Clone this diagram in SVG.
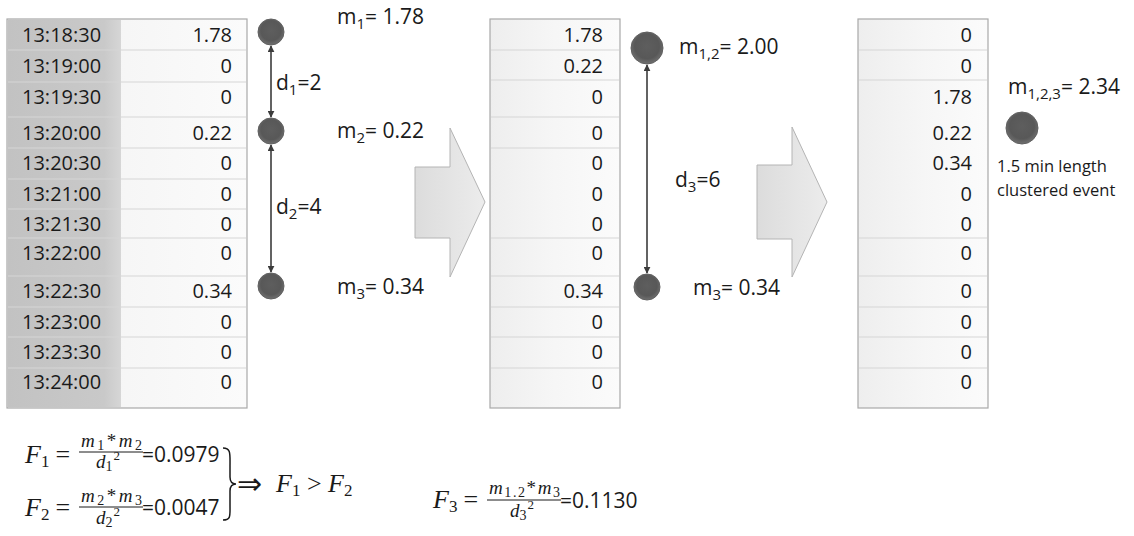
<svg xmlns="http://www.w3.org/2000/svg" width="1134" height="536" viewBox="0 0 1134 536">
<defs>
<linearGradient id="gTime" x1="0" y1="0" x2="1" y2="0">
<stop offset="0" stop-color="#c2c2c2"/><stop offset="0.85" stop-color="#c9c9c9"/><stop offset="1" stop-color="#d6d6d6"/>
</linearGradient>
<linearGradient id="gVal" x1="0" y1="0" x2="1" y2="0">
<stop offset="0" stop-color="#eeeeee"/><stop offset="0.5" stop-color="#f6f6f6"/><stop offset="1" stop-color="#fbfbfb"/>
</linearGradient>
<linearGradient id="gArrow" x1="0" y1="0" x2="1" y2="0">
<stop offset="0" stop-color="#dcdcdc"/><stop offset="1" stop-color="#ececec"/>
</linearGradient>
<radialGradient id="gDot" cx="0.5" cy="0.45" r="0.55">
<stop offset="0" stop-color="#5e5e5e"/><stop offset="0.7" stop-color="#585858"/><stop offset="1" stop-color="#707070"/>
</radialGradient>
<marker id="ah" viewBox="0 0 10 10" refX="9" refY="5" markerWidth="7" markerHeight="7" orient="auto-start-reverse" markerUnits="userSpaceOnUse">
<path d="M0,0 L10,5 L0,10 z" fill="#3c3c3c"/>
</marker>
<style>
.t{font-family:"Open Sans","Liberation Sans",sans-serif;font-size:20px;fill:#1a1a1a}
.v{font-family:"Open Sans","Liberation Sans",sans-serif;font-size:20px;fill:#1a1a1a;text-anchor:end}
.lb{font-family:"Open Sans","Liberation Sans",sans-serif;font-size:21px;fill:#1a1a1a}
.sub{font-size:15px}
.sm{font-family:"Open Sans","Liberation Sans",sans-serif;font-size:16.5px;fill:#1a1a1a}
.mi{font-family:"Liberation Serif",serif;font-style:italic;fill:#1a1a1a}
.up{font-style:normal}
.box{stroke:#a8a8a8;stroke-width:1.2;fill:url(#gVal)}
.sep{stroke:#d6d6d6;stroke-width:1.2}
.dot{fill:url(#gDot);stroke:#606060;stroke-width:1}
.con{stroke:#3c3c3c;stroke-width:1.6;fill:none;marker-start:url(#ah);marker-end:url(#ah)}
.fat{fill:url(#gArrow);stroke:#b4b4b4;stroke-width:1}
.fl{stroke:#1a1a1a;stroke-width:1}
</style>
</defs>
<rect width="1134" height="536" fill="#fff"/>

<g id="table1">
<rect class="box" x="7" y="19" width="240" height="389"/>
<rect x="8" y="20" width="113" height="387" fill="url(#gTime)"/>
<g class="sep">
<line x1="8" y1="50" x2="246" y2="50"/><line x1="8" y1="82" x2="246" y2="82"/><line x1="8" y1="117" x2="246" y2="117"/><line x1="8" y1="148" x2="246" y2="148"/><line x1="8" y1="179" x2="246" y2="179"/><line x1="8" y1="209" x2="246" y2="209"/><line x1="8" y1="238" x2="246" y2="238"/><line x1="8" y1="276" x2="246" y2="276"/><line x1="8" y1="307" x2="246" y2="307"/><line x1="8" y1="337" x2="246" y2="337"/><line x1="8" y1="368" x2="246" y2="368"/>
</g>
<g class="t">
<text x="22" y="42">13:18:30</text><text x="22" y="73">13:19:00</text><text x="22" y="104">13:19:30</text><text x="22" y="140">13:20:00</text><text x="22" y="170">13:20:30</text><text x="22" y="201">13:21:00</text><text x="22" y="231">13:21:30</text><text x="22" y="260">13:22:00</text><text x="22" y="298">13:22:30</text><text x="22" y="329">13:23:00</text><text x="22" y="359">13:23:30</text><text x="22" y="389">13:24:00</text>
</g>
<g class="v">
<text x="232" y="42">1.78</text><text x="232" y="73">0</text><text x="232" y="104">0</text><text x="232" y="140">0.22</text><text x="232" y="170">0</text><text x="232" y="201">0</text><text x="232" y="231">0</text><text x="232" y="260">0</text><text x="232" y="298">0.34</text><text x="232" y="329">0</text><text x="232" y="359">0</text><text x="232" y="389">0</text>
</g>
</g>

<g id="table2">
<rect class="box" x="490" y="19" width="130" height="389"/>
<g class="sep">
<line x1="491" y1="50" x2="619" y2="50"/><line x1="491" y1="80" x2="619" y2="80"/><line x1="491" y1="117" x2="619" y2="117"/><line x1="491" y1="148" x2="619" y2="148"/><line x1="491" y1="238" x2="619" y2="238"/><line x1="491" y1="276" x2="619" y2="276"/><line x1="491" y1="307" x2="619" y2="307"/><line x1="491" y1="337" x2="619" y2="337"/><line x1="491" y1="368" x2="619" y2="368"/>
</g>
<g class="v">
<text x="603" y="42">1.78</text><text x="603" y="73">0.22</text><text x="603" y="104">0</text><text x="603" y="140">0</text><text x="603" y="170">0</text><text x="603" y="201">0</text><text x="603" y="231">0</text><text x="603" y="260">0</text><text x="603" y="298">0.34</text><text x="603" y="329">0</text><text x="603" y="359">0</text><text x="603" y="389">0</text>
</g>
</g>

<g id="table3">
<rect class="box" x="858" y="19" width="130" height="389"/>
<g class="sep">
<line x1="859" y1="50" x2="987" y2="50"/><line x1="859" y1="80" x2="987" y2="80"/><line x1="859" y1="238" x2="987" y2="238"/><line x1="859" y1="276" x2="987" y2="276"/><line x1="859" y1="307" x2="987" y2="307"/><line x1="859" y1="337" x2="987" y2="337"/><line x1="859" y1="368" x2="987" y2="368"/>
</g>
<g class="v">
<text x="972" y="42">0</text><text x="972" y="73">0</text><text x="972" y="104">1.78</text><text x="972" y="140">0.22</text><text x="972" y="170">0.34</text><text x="972" y="201">0</text><text x="972" y="231">0</text><text x="972" y="260">0</text><text x="972" y="298">0</text><text x="972" y="329">0</text><text x="972" y="359">0</text><text x="972" y="389">0</text>
</g>
</g>

<g id="arrow1"><path class="fat" d="M415,167 H450 V128 L485,202 L450,277 V238 H415 Z"/></g>
<g id="arrow2"><path class="fat" d="M757,165 H792 V127 L827,202 L792,277 V239 H757 Z"/></g>

<g id="node-m1"><circle class="dot" cx="271" cy="32" r="13"/>
<text class="lb" x="337" y="24">m<tspan class="sub" dy="5">1</tspan><tspan dy="-5">= 1.78</tspan></text></g>
<g id="node-m2"><circle class="dot" cx="271" cy="131" r="13"/>
<text class="lb" x="337" y="138">m<tspan class="sub" dy="5">2</tspan><tspan dy="-5">= 0.22</tspan></text></g>
<g id="node-m3"><circle class="dot" cx="271" cy="286" r="13"/>
<text class="lb" x="337" y="294">m<tspan class="sub" dy="5">3</tspan><tspan dy="-5">= 0.34</tspan></text></g>
<g id="node-m12"><circle class="dot" cx="647" cy="48" r="16"/>
<text class="lb" x="679" y="54">m<tspan class="sub" dy="5">1,2</tspan><tspan dy="-5">= 2.00</tspan></text></g>
<g id="node-m3b"><circle class="dot" cx="647" cy="287" r="13"/>
<text class="lb" x="693" y="295">m<tspan class="sub" dy="5">3</tspan><tspan dy="-5">= 0.34</tspan></text></g>
<g id="node-m123"><circle class="dot" cx="1022" cy="128" r="16"/>
<text class="lb" x="1008" y="94">m<tspan class="sub" dy="5">1,2,3</tspan><tspan dy="-5">= 2.34</tspan></text>
<text class="sm" x="997" y="172">1.5 min length</text>
<text class="sm" x="997" y="196">clustered event</text></g>

<g id="connectors">
<line class="con" x1="271" y1="46" x2="271" y2="117"/>
<line class="con" x1="271" y1="145" x2="271" y2="272"/>
<line class="con" x1="647" y1="65" x2="647" y2="273"/>
<text class="lb" x="276" y="90">d<tspan class="sub" dy="5">1</tspan><tspan dy="-5">=2</tspan></text>
<text class="lb" x="276" y="214">d<tspan class="sub" dy="5">2</tspan><tspan dy="-5">=4</tspan></text>
<text class="lb" x="675" y="187">d<tspan class="sub" dy="5">3</tspan><tspan dy="-5">=6</tspan></text>
</g>

<g id="formulas">
<text class="mi" x="25" y="463" font-size="26">F<tspan class="up" font-size="17" dy="4">1</tspan><tspan class="up" dx="6" dy="-4">=</tspan></text>
<text class="mi" x="81" y="447" font-size="19" textLength="61" lengthAdjust="spacing">m<tspan class="up" font-size="14" dy="3">1</tspan><tspan class="up" dy="-3">*</tspan>m<tspan class="up" font-size="14" dy="3">2</tspan></text>
<line class="fl" x1="79" y1="452" x2="143" y2="452"/>
<text class="mi" x="96" y="468" font-size="19">d<tspan class="up" font-size="14" dy="3">1</tspan><tspan class="up" font-size="13" dx="1" dy="-11">2</tspan></text>
<text class="lb" x="142" y="462">=0.0979</text>

<text class="mi" x="25" y="516" font-size="26">F<tspan class="up" font-size="17" dy="4">2</tspan><tspan class="up" dx="6" dy="-4">=</tspan></text>
<text class="mi" x="81" y="502" font-size="19" textLength="61" lengthAdjust="spacing">m<tspan class="up" font-size="14" dy="3">2</tspan><tspan class="up" dy="-3">*</tspan>m<tspan class="up" font-size="14" dy="3">3</tspan></text>
<line class="fl" x1="79" y1="507" x2="143" y2="507"/>
<text class="mi" x="96" y="524" font-size="19">d<tspan class="up" font-size="14" dy="3">2</tspan><tspan class="up" font-size="13" dx="1" dy="-11">2</tspan></text>
<text class="lb" x="142" y="515">=0.0047</text>

<path d="M223,448 C231,448 230,454 230,466 L230,477 C230,482 232,484 236,484 C232,484 230,486 230,491 L230,505 C230,516 231,520 223,520" fill="none" stroke="#1a1a1a" stroke-width="1.5"/>
<text x="237" y="494" font-family="DejaVu Sans,sans-serif" font-size="30" fill="#1a1a1a">⇒</text>
<text class="mi" x="276" y="492" font-size="26">F<tspan class="up" font-size="17" dy="4">1</tspan><tspan class="up" dy="-4"> &gt; </tspan>F<tspan class="up" font-size="17" dy="4">2</tspan></text>

<text class="mi" x="433" y="508" font-size="26">F<tspan class="up" font-size="17" dy="4">3</tspan><tspan class="up" dx="6" dy="-4">=</tspan></text>
<text class="mi" x="489" y="494" font-size="19" textLength="71" lengthAdjust="spacing">m<tspan class="up" font-size="14" dy="3">1.2</tspan><tspan class="up" dy="-3">*</tspan>m<tspan class="up" font-size="14" dy="3">3</tspan></text>
<line class="fl" x1="487" y1="500" x2="561" y2="500"/>
<text class="mi" x="510" y="517" font-size="19">d<tspan class="up" font-size="14" dy="3">3</tspan><tspan class="up" font-size="13" dx="1" dy="-11">2</tspan></text>
<text class="lb" x="560" y="508">=0.1130</text>
</g>
</svg>
